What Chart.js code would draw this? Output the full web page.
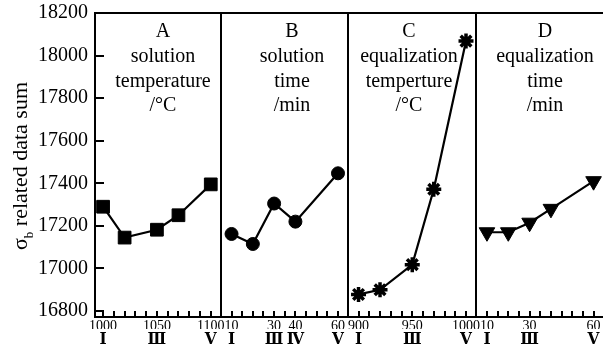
<!DOCTYPE html>
<html>
<head>
<meta charset="utf-8">
<script src="https://cdn.jsdelivr.net/npm/chart.js@4"></script>
<style>
  html, body { margin: 0; padding: 0; background: #fff; overflow: hidden; }
  #wrap { position: relative; width: 603px; height: 353px; overflow: hidden; }
  canvas { position: absolute; top: 0; }
</style>
</head>
<body>
<div id="wrap">
  <canvas id="chartA" width="229" height="353" style="left:0px"></canvas>
  <canvas id="chartB" width="143" height="353" style="left:213px"></canvas>
  <canvas id="chartC" width="144" height="353" style="left:340px"></canvas>
  <canvas id="chartD" width="144" height="353" style="left:468px"></canvas>
</div>
<script>
// y axis (shared by all four factor panels)
const yTicks = [16800, 17000, 17200, 17400, 17600, 17800, 18000, 18200];

// A: solution temperature
const levelsA = [1000, 1020, 1050, 1070, 1100];
const sumsA = [17290, 17145, 17182, 17250, 17395];
const numLabelsA = [1000, 1050, 1100];
const romanAtA = [1000, 1050, 1100];
const romanA = ['Ⅰ', 'Ⅲ', 'Ⅴ'];

// B: solution time
const levelsB = [10, 20, 30, 40, 60];
const sumsB = [17162, 17115, 17305, 17220, 17447];
const numLabelsB = [10, 30, 40, 60];
const romanAtB = [10, 30, 40, 60];
const romanB = ['Ⅰ', 'Ⅲ', 'Ⅳ', 'Ⅴ'];

// C: equalization temperature
const levelsC = [900, 920, 950, 970, 1000];
const sumsC = [16878, 16900, 17018, 17372, 18068];
const numLabelsC = [900, 950, 1000];
const romanAtC = [900, 950, 1000];
const romanC = ['Ⅰ', 'Ⅲ', 'Ⅴ'];

// D: equalization time
const levelsD = [10, 20, 30, 40, 60];
const sumsD = [17170, 17170, 17215, 17280, 17410];
const numLabelsD = [10, 30, 60];
const romanAtD = [10, 30, 60];
const romanD = ['Ⅰ', 'Ⅲ', 'Ⅴ'];

const yMin = 16772, yMax = 18200;
const serif = 'Liberation Serif, Times New Roman, serif';

function steps(from, to, by) {
    const out = [];
    for (let v = from; v <= to + 1e-9; v += by) out.push(Math.round(v * 100) / 100);
    return out;
}

function noPadding(s) {
    s.paddingTop = 0;
    s.paddingBottom = 0;
    s.paddingLeft = 0;
    s.paddingRight = 0;
}

// plot frame (left, top, bottom edges)
const framePlugin = {
    id: 'frame',
    beforeDatasetsDraw(chart) {
        const { ctx, chartArea: a } = chart;
        ctx.save();
        ctx.strokeStyle = '#000';
        ctx.lineWidth = 2;
        ctx.beginPath();
        ctx.moveTo(a.right + 1, a.top);
        ctx.lineTo(a.left, a.top);
        ctx.lineTo(a.left, a.bottom);
        ctx.lineTo(a.right + 1, a.bottom);
        ctx.stroke();
        ctx.restore();
    }
};

// tick marks pointing into the plot, placed by the chart's own scales
const innerTicksPlugin = {
    id: 'innerTicks',
    afterDraw(chart, args, opts) {
        const { ctx, chartArea: a, scales } = chart;
        ctx.save();
        ctx.fillStyle = '#000';
        (opts.xValues || []).forEach(v => {
            const px = Math.round(scales.x.getPixelForValue(v));
            ctx.fillRect(px - 1, a.bottom - 6, 2, 6);
        });
        if (opts.showY) {
            yTicks.forEach(v => {
                const py = Math.round(scales.y.getPixelForValue(v));
                ctx.fillRect(a.left, py - 1, 9, 2);
            });
        }
        ctx.restore();
    }
};

// factor name written inside the panel
const panelTitlePlugin = {
    id: 'panelTitle',
    afterDraw(chart, args, opts) {
        if (!opts.lines) return;
        const ctx = chart.ctx;
        ctx.save();
        ctx.fillStyle = '#000';
        ctx.font = '20px ' + serif;
        ctx.textAlign = 'center';
        ctx.textBaseline = 'middle';
        opts.lines.forEach((t, i) => {
            ctx.fillText(t, chart.chartArea.left + opts.dx, 32 + i * 24.7);
        });
        ctx.restore();
    }
};

// rotated y title with sigma subscript b
const yTitlePlugin = {
    id: 'yTitle',
    afterDraw(chart, args, opts) {
        if (!opts.show) return;
        const ctx = chart.ctx;
        ctx.save();
        ctx.fillStyle = '#000';
        ctx.translate(27, 166);
        ctx.rotate(-Math.PI / 2);
        ctx.textBaseline = 'alphabetic';
        const big = '22px ' + serif, small = '13px ' + serif;
        ctx.font = big;
        const wSig = ctx.measureText('σ').width;
        const wRest = ctx.measureText(' related data sum').width;
        ctx.font = small;
        const wSub = ctx.measureText('b').width;
        let x = -(wSig + wSub + wRest) / 2;
        ctx.font = big;
        ctx.fillText('σ', x, 0);
        x += wSig;
        ctx.font = small;
        ctx.fillText('b', x, 6);
        x += wSub;
        ctx.font = big;
        ctx.fillText(' related data sum', x, 0);
        ctx.restore();
    }
};

function buildPanel(id, p) {
    const ctx = document.getElementById(id).getContext('2d');
    return new Chart(ctx, {
        type: 'line',
        data: {
            datasets: [{
                data: p.levels.map((x, i) => ({ x: x, y: p.sums[i] })),
                borderColor: '#000',
                backgroundColor: '#000',
                borderWidth: 2.2,
                tension: 0,
                pointStyle: p.marker,
                pointRadius: p.radius,
                pointBorderWidth: p.marker === 'star' ? 3.5 : 1,
                pointRotation: p.rotation || 0,
                pointBorderColor: '#000',
                pointBackgroundColor: '#000'
            }]
        },
        options: {
            responsive: false,
            animation: false,
            layout: {
                autoPadding: false,
                padding: { top: 13, bottom: 0, left: p.showY ? 0 : 8, right: 8 }
            },
            plugins: {
                legend: { display: false },
                tooltip: { enabled: false },
                panelTitle: { lines: p.title, dx: p.titleDx },
                yTitle: { show: p.showY },
                innerTicks: { xValues: p.minor, showY: p.showY }
            },
            scales: {
                x: {
                    type: 'linear',
                    position: 'bottom',
                    min: p.min,
                    max: p.max,
                    afterBuildTicks: s => { s.ticks = p.minor.map(v => ({ value: v })); },
                    afterFit: s => { s.height = 12; noPadding(s); },
                    border: { display: false },
                    grid: { display: false, drawTicks: false },
                    ticks: {
                        autoSkip: false,
                        maxRotation: 0,
                        padding: 1,
                        color: '#000',
                        font: { family: serif, size: 14 },
                        callback: v => p.numLabels.includes(v) ? String(v) : ''
                    }
                },
                roman: {
                    type: 'linear',
                    position: 'bottom',
                    min: p.min,
                    max: p.max,
                    afterBuildTicks: s => { s.ticks = p.romanAt.map(v => ({ value: v })); },
                    afterFit: s => { s.height = 24; noPadding(s); },
                    border: { display: false },
                    grid: { display: false, drawTicks: false },
                    ticks: {
                        autoSkip: false,
                        maxRotation: 0,
                        padding: 0,
                        color: '#000',
                        font: { family: 'DejaVu Serif Condensed, DejaVu Serif', size: 17, weight: 'bold' },
                        callback: (v, i) => p.roman[i]
                    }
                },
                y: {
                    display: p.showY,
                    min: yMin,
                    max: yMax,
                    afterBuildTicks: s => { s.ticks = yTicks.map(v => ({ value: v })); },
                    afterFit: s => { s.width = p.showY ? 95 : 0; noPadding(s); },
                    border: { display: false },
                    grid: { display: false, drawTicks: false },
                    ticks: { padding: 7, color: '#000', font: { family: serif, size: 20 }, callback: v => String(v) }
                }
            }
        },
        plugins: [framePlugin, innerTicksPlugin, panelTitlePlugin, yTitlePlugin]
    });
}

const chartA = buildPanel('chartA', {
    levels: levelsA, sums: sumsA, numLabels: numLabelsA, romanAt: romanAtA, roman: romanA,
    minor: steps(1000, 1100, 10), min: 992.5, max: 1109.5,
    marker: 'rect', radius: 9, showY: true,
    title: ['A', 'solution', 'temperature', '/°C'], titleDx: 68
});

const chartB = buildPanel('chartB', {
    levels: levelsB, sums: sumsB, numLabels: numLabelsB, romanAt: romanAtB, roman: romanB,
    minor: steps(10, 60, 5), min: 5.05, max: 64.7,
    marker: 'circle', radius: 6.5, showY: false,
    title: ['B', 'solution', 'time', '/min'], titleDx: 71
});

const chartC = buildPanel('chartC', {
    levels: levelsC, sums: sumsC, numLabels: numLabelsC, romanAt: romanAtC, roman: romanC,
    minor: steps(900, 1000, 10), min: 890.2, max: 1009.3,
    marker: 'star', radius: 7.5, showY: false,
    title: ['C', 'equalization', 'temperture', '/°C'], titleDx: 61
});

const chartD = buildPanel('chartD', {
    levels: levelsD, sums: sumsD, numLabels: numLabelsD, romanAt: romanAtD, roman: romanD,
    minor: steps(10, 60, 5), min: 4.85, max: 64.9,
    marker: 'triangle', rotation: 180, radius: 9, showY: false,
    title: ['D', 'equalization', 'time', '/min'], titleDx: 69
});
</script>
</body>
</html>
